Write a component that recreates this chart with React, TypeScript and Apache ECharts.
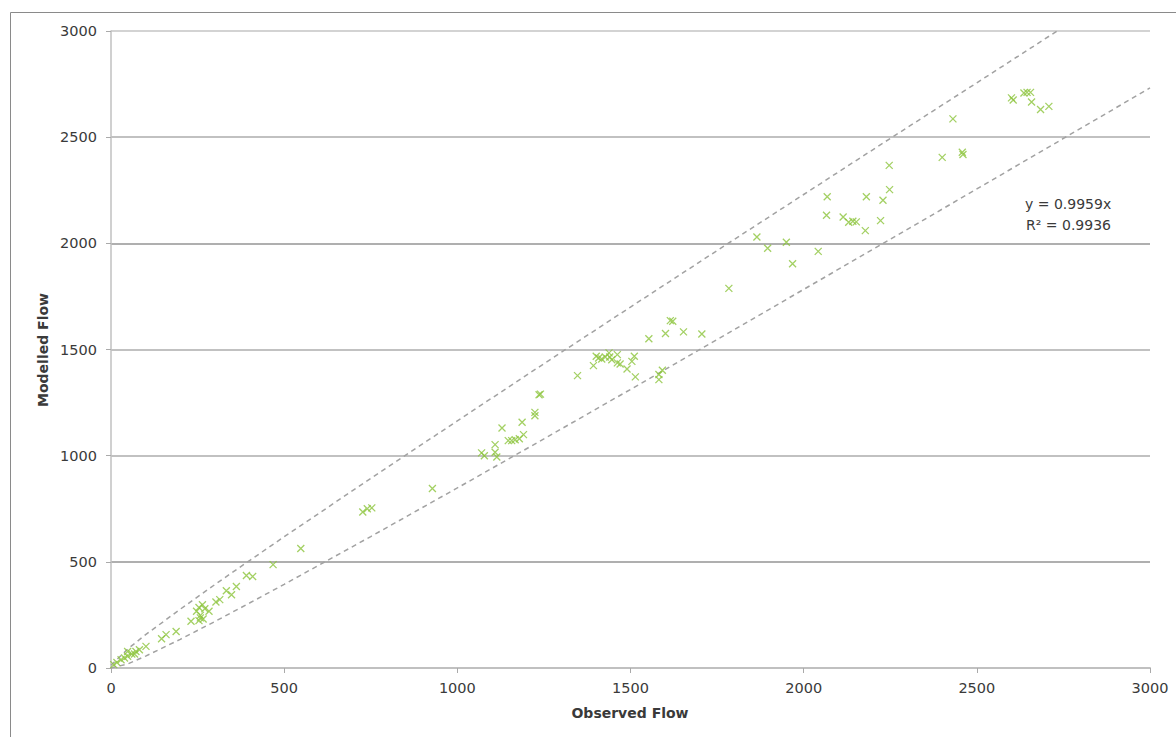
import React, { useEffect, useRef } from "react";
import * as echarts from "echarts";

const observed = [
  8, 17, 29, 39, 48, 48, 60, 68, 72, 82, 101, 146, 159, 188,
  231, 247, 254, 254, 258, 258, 264, 266, 271, 283, 303, 314, 333, 348, 362, 391, 409, 468, 548,
  727, 740, 753, 928,
  1070, 1078, 1109, 1109, 1114, 1129, 1147, 1157, 1167, 1179, 1191, 1187, 1224, 1224, 1236, 1240,
  1347, 1393, 1401, 1408, 1417, 1427, 1438, 1440, 1446, 1462, 1462, 1470, 1490, 1504, 1511, 1514,
  1553, 1582, 1582, 1592, 1601, 1615, 1622, 1653, 1706, 1784,
  1865, 1896, 1950, 1968, 2042, 2066, 2068, 2114, 2130, 2142, 2152, 2178, 2181, 2222, 2229, 2247,
  2248, 2400, 2431, 2458, 2460, 2600, 2605, 2636, 2645, 2655, 2658, 2684, 2708,
];
const modelled = [
  16, 26, 39, 47, 55, 78, 66, 66, 78, 86, 102, 138, 157, 172,
  220, 267, 223, 285, 248, 236, 298, 231, 279, 267, 311, 322, 364, 345, 384, 436, 431, 487, 563,
  735, 750, 754, 845,
  1013, 1000, 1052, 1016, 994, 1130, 1071, 1071, 1075, 1080, 1099, 1157, 1204, 1188, 1287, 1290,
  1377, 1424, 1468, 1460, 1455, 1465, 1484, 1465, 1452, 1476, 1437, 1432, 1408, 1444, 1468, 1371,
  1551, 1382, 1358, 1402, 1575, 1636, 1633, 1583, 1573, 1788,
  2030, 1977, 2005, 1904, 1962, 2132, 2219, 2124, 2099, 2104, 2101, 2060, 2219, 2107, 2203, 2367,
  2253, 2405, 2586, 2429, 2418, 2685, 2675, 2708, 2711, 2711, 2666, 2630, 2645,
];

const upperX = [0, 50, 100, 200, 300, 400, 500, 750, 1000, 1250, 1500, 1750, 2000, 2250, 2500, 2732];
const upperY = [13, 92, 157, 277, 393, 506, 618, 893, 1164, 1433, 1700, 1966, 2230, 2494, 2756, 3000];
const lowerX = [0, 50, 100, 200, 300, 400, 500, 750, 1000, 1250, 1500, 1750, 2000, 2250, 2500, 2750, 3000];
const lowerY = [0, 20, 56, 135, 219, 306, 394, 619, 848, 1079, 1312, 1547, 1783, 2019, 2256, 2494, 2732];

const axisTicks = [0, 500, 1000, 1500, 2000, 2500, 3000];
const equationText = "y = 0.9959x";
const rSquaredText = "R\u00B2 = 0.9936";
const xTitle = "Observed Flow";
const yTitle = "Modelled Flow";

const FONT = "DejaVu Sans";
const TEXT_COLOR = "#3a3a3a";
const GREEN = "#8cc43c";

export default function App() {
  const ref = useRef<HTMLDivElement>(null);
  useEffect(() => {
    if (!ref.current) return;
    const chart = echarts.init(ref.current, null, { renderer: "svg" });
    const points = observed.map((o, i) => [o, modelled[i]]);
    const upper = upperX.map((x, i) => [x, upperY[i]]);
    const lower = lowerX.map((x, i) => [x, lowerY[i]]);
    const minV = axisTicks[0];
    const maxV = axisTicks[axisTicks.length - 1];
    const step = axisTicks[1] - axisTicks[0];
    const fmt = (v: number) => String(v);
    chart.setOption({
      animation: false,
      backgroundColor: "#ffffff",
      grid: { left: 111, right: 26, top: 31, bottom: 69, containLabel: false },
      xAxis: {
        type: "value",
        min: minV,
        max: maxV,
        interval: step,
        axisLine: { show: true, onZero: false, lineStyle: { color: "#c0c0c0", width: 2 } },
        axisTick: { show: true, length: 5, lineStyle: { color: "#aaaaaa" } },
        axisLabel: { margin: 12, fontFamily: FONT, fontSize: 14.5, color: TEXT_COLOR, formatter: fmt },
        splitLine: { show: false },
      },
      yAxis: {
        type: "value",
        min: minV,
        max: maxV,
        interval: step,
        axisLine: { show: true, onZero: false, lineStyle: { color: "#c0c0c0", width: 1.5 } },
        axisTick: { show: true, length: 5, lineStyle: { color: "#aaaaaa" } },
        axisLabel: { margin: 14, fontFamily: FONT, fontSize: 14.5, color: TEXT_COLOR, formatter: fmt },
        splitLine: {
          show: true,
          lineStyle: {
            width: 1.5,
            color: ["#c0c0c0", "#959595", "#adadad", "#adadad", "#959595", "#adadad", "#c4c4c4"],
          },
        },
      },
      series: [
        {
          type: "line",
          data: upper,
          symbol: "none",
          silent: true,
          lineStyle: { color: "#a2a2a2", width: 1.5, type: [5, 4] },
          z: 2,
        },
        {
          type: "line",
          data: lower,
          symbol: "none",
          silent: true,
          lineStyle: { color: "#a2a2a2", width: 1.5, type: [5, 4] },
          z: 2,
        },
        {
          type: "scatter",
          data: points,
          symbol: "path://M0,0L10,10M10,0L0,10",
          symbolSize: 7,
          itemStyle: { color: "rgba(0,0,0,0)", borderColor: GREEN, borderWidth: 1.3 },
          z: 3,
        },
      ],
      graphic: [
        {
          type: "polyline",
          shape: { points: [[10.5, 737], [10.5, 12.5], [1176, 12.5]] },
          style: { stroke: "#8a8a8a", lineWidth: 1, fill: "none" },
          silent: true,
        },
        {
          type: "text",
          x: 1025,
          y: 204,
          style: { text: equationText, fontFamily: FONT, fontSize: 14, fill: TEXT_COLOR, textAlign: "left", textVerticalAlign: "middle" },
        },
        {
          type: "text",
          x: 1026,
          y: 225,
          style: { text: rSquaredText, fontFamily: FONT, fontSize: 14, fill: TEXT_COLOR, textAlign: "left", textVerticalAlign: "middle" },
        },
        {
          type: "text",
          x: 630,
          y: 713,
          style: { text: xTitle, fontFamily: FONT, fontSize: 14, fontWeight: "bold", fill: TEXT_COLOR, textAlign: "center", textVerticalAlign: "middle" },
        },
        {
          type: "text",
          x: 43,
          y: 350,
          rotation: Math.PI / 2,
          style: { text: yTitle, fontFamily: FONT, fontSize: 14, fontWeight: "bold", fill: TEXT_COLOR, textAlign: "center", textVerticalAlign: "middle" },
        },
      ],
    });
    return () => chart.dispose();
  }, []);
  return (
    <div
      ref={ref}
      style={{ position: "fixed", left: 0, top: 0, width: 1176, height: 737, background: "#fff" }}
    />
  );
}
